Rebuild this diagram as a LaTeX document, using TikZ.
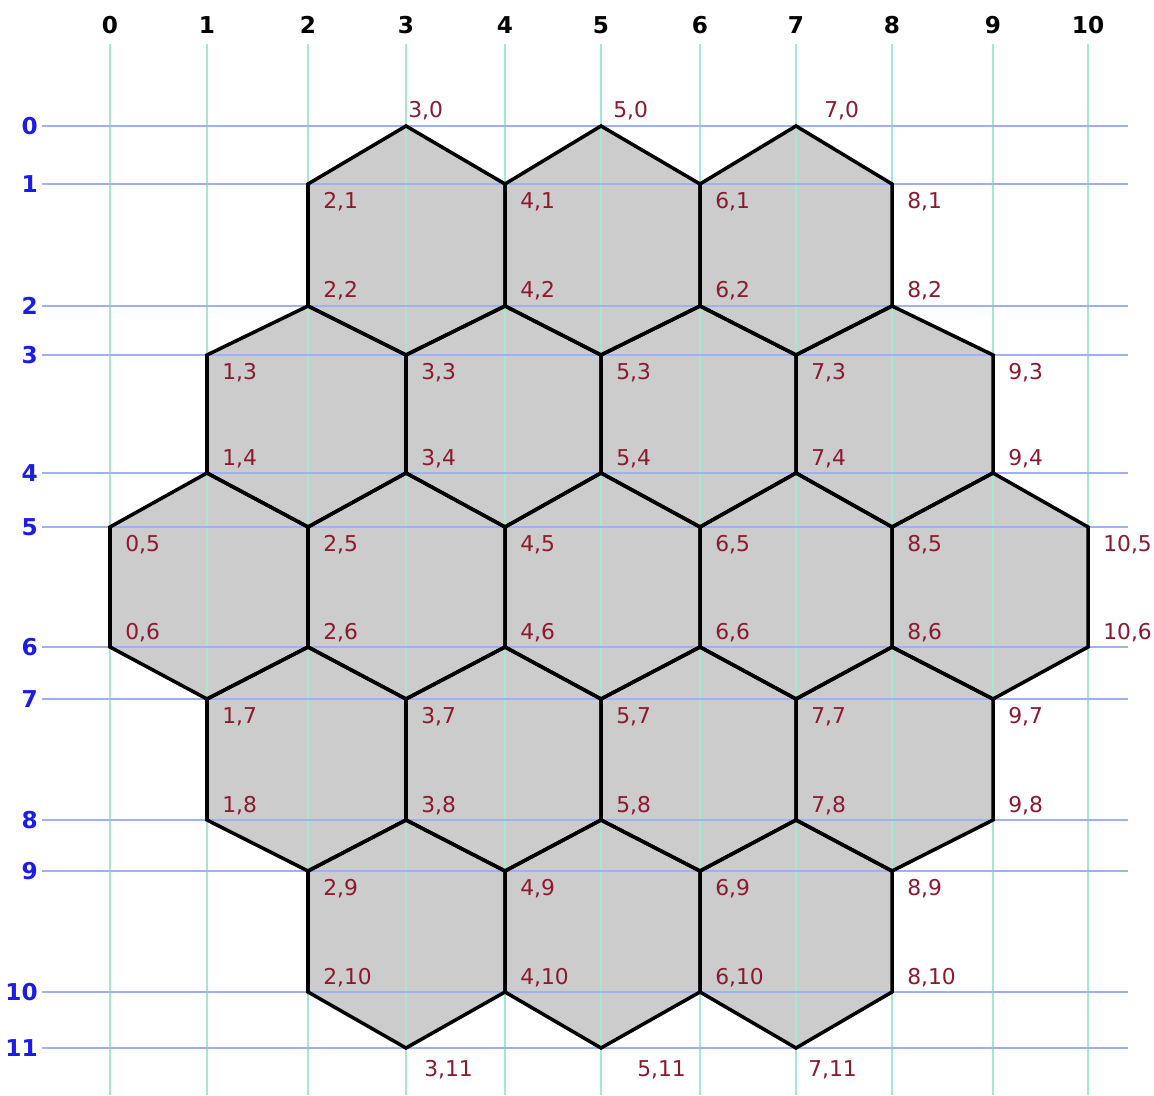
\documentclass[tikz,border=0pt]{standalone}
\usepackage{fontspec}
\setmainfont{DejaVu Sans}
\usetikzlibrary{calc}
\usepackage{xcolor}

\definecolor{gridgreen}{HTML}{A6E8CC}
\definecolor{gridblue}{HTML}{9FB1F2}
\definecolor{vertred}{HTML}{8B1A2E}
\definecolor{axisblue}{HTML}{1C1CE6}
\definecolor{hexgray}{HTML}{CCCCCC}

\begin{document}
\begin{tikzpicture}[
  x=0.025cm, y=-0.025cm,
  colline/.style={gridgreen, line width=1.4pt},
  rowline/.style={gridblue, line width=1.4pt},
  hexfill/.style={fill=hexgray},
  hexedge/.style={draw=black, line width=2.5pt},
  colnum/.style={font=\fontsize{16.5}{18}\selectfont\bfseries, inner sep=0pt},
  rownum/.style={font=\fontsize{16.5}{18}\selectfont\bfseries, text=axisblue,
    inner sep=0pt, anchor=east},
  vlabel/.style={font=\fontsize{15.5}{17}\selectfont, text=vertred, inner sep=0pt}
]
\useasboundingbox (0,0) rectangle (1154,1095);

% grid coordinates
\foreach \i/\x in {0/110,1/207,2/308,3/406,4/505,5/601,6/700,7/796,8/892,9/993,10/1088}
  \coordinate (c\i) at (\x,0);
\foreach \j/\y in {0/126,1/184,2/306,3/355,4/473,5/527,6/647,7/699,8/820,9/871,10/992,11/1048}
  \coordinate (r\j) at (0,\y);

% hex cells (centre column / top row)
\foreach \cx/\rt in {3/0,5/0,7/0,2/2,4/2,6/2,8/2,1/4,3/4,5/4,7/4,9/4,2/6,4/6,6/6,8/6,3/8,5/8,7/8} {
  \pgfmathtruncatemacro\xl{\cx-1}
  \pgfmathtruncatemacro\xr{\cx+1}
  \pgfmathtruncatemacro\ya{\rt+1}
  \pgfmathtruncatemacro\yb{\rt+2}
  \pgfmathtruncatemacro\yc{\rt+3}
  \fill[hexfill] (c\cx |- r\rt) -- (c\xl |- r\ya) -- (c\xl |- r\yb) -- (c\cx |- r\yc)
    -- (c\xr |- r\yb) -- (c\xr |- r\ya) -- cycle;
}

% grid lines and axis numbers
\foreach \i in {0,...,10} {
  \node[colnum] (col\i) at (c\i |- 0,25) {\i};
  \draw[colline] (c\i |- 0,44) -- (c\i |- 0,1095);
}
\foreach \j in {0,...,11} {
  \node[rownum] (row\j) at (r\j -| 38,0) {\j};
  \draw[rowline] (r\j -| 42,0) -- (r\j -| 1128,0);
}

\foreach \cx/\rt in {3/0,5/0,7/0,2/2,4/2,6/2,8/2,1/4,3/4,5/4,7/4,9/4,2/6,4/6,6/6,8/6,3/8,5/8,7/8} {
  \pgfmathtruncatemacro\xl{\cx-1}
  \pgfmathtruncatemacro\xr{\cx+1}
  \pgfmathtruncatemacro\ya{\rt+1}
  \pgfmathtruncatemacro\yb{\rt+2}
  \pgfmathtruncatemacro\yc{\rt+3}
  \draw[hexedge] (c\cx |- r\rt) -- (c\xl |- r\ya) -- (c\xl |- r\yb) -- (c\cx |- r\yc)
    -- (c\xr |- r\yb) -- (c\xr |- r\ya) -- cycle;
}

% corner labels
\foreach \j/\cols in {1/{2,4,6,8},3/{1,3,5,7,9},5/{0,2,4,6,8,10},7/{1,3,5,7,9},9/{2,4,6,8}}
  \foreach \i in \cols
    \node[vlabel, anchor=north west] (v\i-\j) at ($(c\i |- r\j)+(15,8)$) {\i,\j};
\foreach \j/\cols in {2/{2,4,6,8},4/{1,3,5,7,9},6/{0,2,4,6,8,10},8/{1,3,5,7,9},10/{2,4,6,8}}
  \foreach \i in \cols
    \node[vlabel, anchor=base west] (v\i-\j) at ($(c\i |- r\j)+(15,-8)$) {\i,\j};
\foreach \i/\dx in {3/2,5/12,7/28}
  \node[vlabel, anchor=base west] (v\i-0) at ($(c\i |- r0)+(\dx,-8)$) {\i,0};
\foreach \i/\dx in {3/18,5/36,7/12}
  \node[vlabel, anchor=north west] (v\i-11) at ($(c\i |- r11)+(\dx,12)$) {\i,11};

\end{tikzpicture}
\end{document}
